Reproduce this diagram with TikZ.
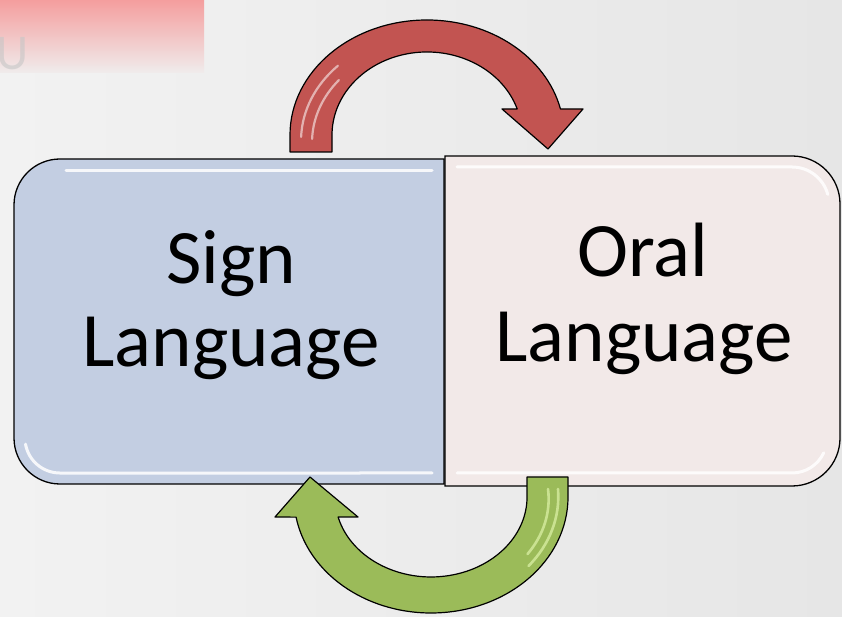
\documentclass[tikz,border=0pt]{standalone}
\usepackage{fontspec}
\setmainfont{Carlito}
\definecolor{bgL}{RGB}{242,242,242}
\definecolor{bgR}{RGB}{230,230,230}
\definecolor{pinkT}{RGB}{244,158,158}
\definecolor{pinkB}{RGB}{240,236,236}
\definecolor{signfill}{RGB}{195,206,226}
\definecolor{oralfill}{RGB}{242,233,232}
\definecolor{redarrow}{RGB}{194,84,81}
\definecolor{greenarrow}{RGB}{155,187,89}
\definecolor{greenlight}{RGB}{214,236,160}
\tikzset{
  boxshape/.style={draw=black, line width=1.3pt},
  arrowshape/.style={draw=black, line width=1.2pt, line join=round},
  bevel/.style={draw=white, line width=3pt, opacity=0.85, line cap=round},
  streak/.style={draw=white, line width=2.2pt, opacity=0.55, line cap=round},
  gstreak/.style={draw=greenlight, line width=2.6pt, opacity=0.8, line cap=round},
  label/.style={font=\fontsize{77}{84}\selectfont, inner sep=0pt, anchor=base, text=black}
}
\begin{document}
\begin{tikzpicture}[x=1pt,y=1pt]
\useasboundingbox (0,0) rectangle (842,617);
% background
\shade[left color=bgL, right color=bgR] (0,0) rectangle (842,617);
% top-left slide fragment
\shade[top color=pinkT, bottom color=pinkB] (0,544) rectangle (204,617);
\node (frag) [anchor=base west, inner sep=0pt, text=gray!45, opacity=0.6,
  font=\fontsize{50}{50}\selectfont] at (-3.5,547) {U};
% left box
\path[boxshape, fill=signfill] (444,458) -- (444,133) -- (60,133)
  arc[start angle=270, end angle=180, radius=46pt] -- (14,412)
  arc[start angle=180, end angle=90, radius=46pt] -- cycle;
\draw[bevel] (66,446) -- (432,446);
\draw[bevel] (25.5,172.9) arc[start angle=190, end angle=270, radius=35pt] -- (432,144);
% right box
\path[boxshape, fill=oralfill] (445,131) -- (445,461) -- (792,461)
  arc[start angle=90, end angle=0, radius=48pt] -- (840,179)
  arc[start angle=0, end angle=-90, radius=48pt] -- cycle;
\draw[bevel] (457,450) -- (792,450) arc[start angle=90, end angle=15, radius=37pt];
\draw[bevel] (457,144) -- (792,144) arc[start angle=270, end angle=335, radius=35pt];
% texts
\node (signA) [label] at (231,333) {Sign};
\node (signB) [label] at (231,250) {Language};
\node (oralA) [label] at (643,340) {Oral};
\node (oralB) [label] at (644,255) {Language};
% red arrow (top)
\path[arrowshape, fill=redarrow] (290,465) -- (290,482)
  arc[start angle=180, end angle=13.1, x radius=137pt, y radius=115pt]
  -- (583,508) -- (548,468) -- (502,508) -- (517.2,508.06)
  arc[start angle=18.3, end angle=180, x radius=95pt, y radius=83pt]
  -- (332,465) -- cycle;
\draw[streak] (301.1,480) arc[start angle=178, end angle=135, x radius=126pt, y radius=106pt];
\draw[streak] (312.1,478) arc[start angle=178, end angle=140, x radius=115pt, y radius=97pt];
% green arrow (bottom)
\path[arrowshape, fill=greenarrow] (568,140) -- (568,120)
  arc[start angle=0, end angle=-170, x radius=137pt, y radius=116pt]
  -- (275,100) -- (310,140) -- (358,100) -- (338.1,100)
  arc[start angle=194.5, end angle=360, x radius=96pt, y radius=80pt]
  -- (527,140) -- cycle;
\draw[gstreak] (558,128) arc[start angle=4, end angle=-40, x radius=127pt, y radius=108pt];
\draw[gstreak] (548,128) arc[start angle=6, end angle=-35, x radius=117pt, y radius=96pt];
\end{tikzpicture}
\end{document}
